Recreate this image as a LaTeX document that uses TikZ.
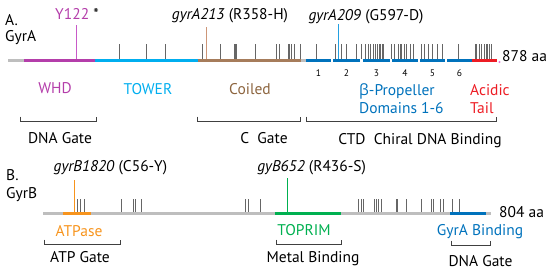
\documentclass[tikz,border=0pt]{standalone}
\usepackage{fontspec}
\setmainfont{PT Sans}
\newfontfamily\greekfont{Open Sans}
\usetikzlibrary{positioning}
\definecolor{backbone}{RGB}{190,190,190}
\definecolor{whd}{RGB}{180,62,170}
\definecolor{tower}{RGB}{0,174,239}
\definecolor{coiled}{RGB}{166,124,91}
\definecolor{coiledtxt}{RGB}{140,100,62}
\definecolor{prop}{RGB}{0,114,188}
\definecolor{acidic}{RGB}{237,28,36}
\definecolor{atpase}{RGB}{247,148,29}
\definecolor{toprim}{RGB}{0,176,80}
\definecolor{sitetan}{RGB}{205,150,120}
\definecolor{siteblue}{RGB}{35,160,225}
\definecolor{sitemag}{RGB}{200,90,200}
\definecolor{enddot}{RGB}{230,120,220}
\tikzset{
  bar/.style={line width=3.6pt},
  tickmark/.style={draw=black!60, line width=0.9pt},
  site/.style={line width=1pt},
  lbl/.style={font=\fontsize{15.5}{18}\selectfont, inner sep=0pt, anchor=base},
  num/.style={font=\fontsize{9.5}{11}\selectfont, inner sep=0pt, anchor=base},
  brk/.style={draw=black!75, line width=1pt}
}
\begin{document}
\begin{tikzpicture}[x=1pt,y=-1pt]
  \useasboundingbox (0,0) rectangle (550,271);

  % GyrA
  \node[lbl, anchor=base west] (secA) at (5,25) {A.};
  \node[lbl, anchor=base west] (gyra) at (5,41.5) {GyrA};
  \foreach \x in {119.3,146.7,165.3,202.7,220.7,234.3,235.3,236.5,255.7,276,279.3,
                  288.3,289.5,291,294,300.7,316,335,341.7,346.7,356,361,365,368.3,
                  370.7,373.3,375.3,377.3,379,380.7,382.3,383.3,391.7,394.3,398.3,
                  400,401.7,404,406,410,413.3,421.7,424,428.3,432.7,437.3,442.7,
                  458.3,475,476.7,479.3,481.7,484,486,487.3,489.3,491.7}
    \draw[tickmark] (\x,44) -- (\x,59);
  \draw[bar, backbone] (8,60.5) -- (306,60.5);
  \draw[bar, whd] (24,60.5) -- (95,60.5);
  \draw[bar, tower] (95,60.5) -- (197.7,60.5);
  \draw[bar, coiled] (197.7,60.5) -- (301,60.5);
  \foreach \a/\b/\n in {306/331/1,333/360/2,363/390/3,392/418/4,420/445/5,447/472/6} {
    \draw[bar, prop] (\a,60.5) -- (\b,60.5);
    \node[num] (dom\n) at ({(\a+\b)/2},76) {\n};
  }
  \draw[bar, acidic] (472,60.5) -- (497,60.5);
  \fill[enddot] (499.5,62) circle (1.2);
  \node[lbl, anchor=base west] (lenA) at (502,61.5) {878 aa};

  % mutation sites on GyrA
  \coordinate (y122) at (76.7,59);
  \coordinate (y122top) at (76.7,25);
  \coordinate (a213) at (206.7,59);
  \coordinate (a213top) at (206.7,27);
  \coordinate (a209) at (338.5,59);
  \coordinate (a209top) at (338.5,24);
  \draw[site, sitemag] (y122) -- (y122top);
  \draw[site, sitetan] (a213) -- (a213top);
  \draw[site, siteblue] (a209) -- (a209top);
  \node[lbl] (ly122) at (77,19.3) {\textcolor{whd}{Y122} *};
  \node[lbl] (la213) at (230,19.5) {\textit{gyrA213} (R358-H)};
  \node[lbl] (la209) at (366,20) {\textit{gyrA209} (G597-D)};

  % GyrA domains
  \node[lbl, text=whd] (whd) at (55,93.3) {WHD};
  \node[lbl, text=tower] (tower) at (148,94) {TOWER};
  \node[lbl, text=coiledtxt] (coil) at (250,94) {Coiled};
  \node[lbl, text=prop, anchor=base west] (betaprop) at (359,95) {{\greekfont β}-Propeller};
  \node[lbl, text=prop, anchor=base west] (domains) at (359,113.3) {Domains 1-6};
  \node[lbl, text=acidic, anchor=base west] (acid) at (470,95) {Acidic};
  \node[lbl, text=acidic, anchor=base west] (tail) at (470,113.3) {Tail};

  % GyrA gates
  \draw[brk] (20.7,116.5) -- (20.7,121) -- (96.7,121) -- (96.7,116.5);
  \draw[brk] (197.7,116.5) -- (197.7,121) -- (300.7,121) -- (300.7,116.5);
  \draw[brk] (306,116.5) -- (306,121) -- (496,121) -- (496,116.5);
  \node[lbl] (dnagateA) at (60,143.3) {DNA Gate};
  \node[lbl] (cgate) at (264,143.3) {C\ \ Gate};
  \node[lbl] (ctd) at (420,144) {CTD\ \ Chiral DNA Binding};

  % GyrB
  \node[lbl, anchor=base west] (secB) at (6,180) {B.};
  \node[lbl, anchor=base west] (gyrb) at (6,198) {GyrB};
  \foreach \x in {77.3,80,84.3,121.7,133.3,135,141.7,245,248.3,260,358.3,361,363.3,
                  374,376,378.3,381,396,397.7,406.7,421.7,431,433.3,440,443.3,452.7,459.3}
    \draw[tickmark] (\x,199) -- (\x,211.5);
  \draw[bar, backbone] (43.3,213.3) -- (490.7,213.3);
  \draw[bar, atpase] (63.3,213.3) -- (90.7,213.3);
  \draw[bar, toprim] (275,213.3) -- (341,213.3);
  \draw[bar, prop] (450,213.3) -- (486,213.3);
  \node[lbl, anchor=base west] (lenB) at (499,217) {804 aa};

  % mutation sites on GyrB
  \coordinate (b1820) at (74.7,211.5);
  \coordinate (b1820top) at (74.7,180);
  \coordinate (b652) at (287.7,211.5);
  \coordinate (b652top) at (287.7,178);
  \draw[site, atpase] (b1820) -- (b1820top);
  \draw[site, toprim] (b652) -- (b652top);
  \node[lbl] (lb1820) at (110.4,171.5) {\textit{gyrB1820} (C56-Y)};
  \node[lbl] (lb652) at (311.7,171) {\textit{gyB652} (R436-S)};

  % GyrB domains and gates
  \node[lbl, text=atpase] (atp) at (79,236) {ATPase};
  \node[lbl, text=toprim] (top) at (304,235) {TOPRIM};
  \node[lbl, text=prop] (gyrabind) at (480,235) {GyrA Binding};
  \draw[brk] (44.3,239.5) -- (44.3,244) -- (120.7,244) -- (120.7,239.5);
  \draw[brk] (276,239.5) -- (276,244) -- (341,244) -- (341,239.5);
  \draw[brk] (451,240.5) -- (451,245) -- (490,245) -- (490,240.5);
  \node[lbl] (atpgate) at (80,262.7) {ATP Gate};
  \node[lbl] (metal) at (313,262.7) {Metal Binding};
  \node[lbl] (dnagateB) at (480.5,266) {DNA Gate};
\end{tikzpicture}
\end{document}
